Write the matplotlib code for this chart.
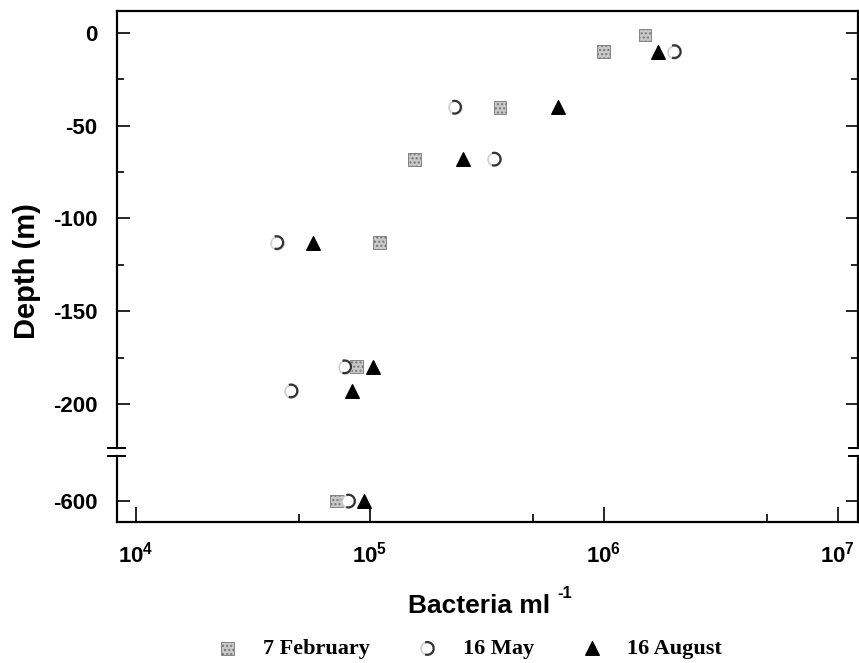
import math
import matplotlib
matplotlib.use("Agg")
import matplotlib.pyplot as plt
from matplotlib.path import Path
from matplotlib.ticker import FixedLocator, FuncFormatter, NullFormatter
from matplotlib.legend_handler import HandlerTuple

plt.rcParams["font.family"] = "Liberation Sans"
plt.rcParams["font.weight"] = "bold"
plt.rcParams["axes.unicode_minus"] = False
plt.rcParams["mathtext.fontset"] = "custom"
plt.rcParams["mathtext.rm"] = "Liberation Sans:bold"
plt.rcParams["mathtext.bf"] = "Liberation Sans:bold"

# bacteria per ml vs depth (m)
feb_x = [1.5e6, 1.0e6, 3.6e5, 1.55e5, 1.1e5, 8.8e4, 7.2e4]
feb_y = [-1, -10, -40, -68, -113, -180, -600]
may_x = [2.0e6, 2.3e5, 3.4e5, 4.0e4, 7.8e4, 4.6e4, 8.1e4]
may_y = [-10, -40, -68, -113, -180, -193, -600]
aug_x = [1.7e6, 6.4e5, 2.5e5, 5.7e4, 1.03e5, 8.4e4, 9.4e4]
aug_y = [-10, -40, -68, -113, -180, -193, -600]

series_labels = ["7 February", "16 May", "16 August"]
upper_ticks = [0, -50, -100, -150, -200]
lower_ticks = [-600]

fig = plt.figure(figsize=(8.59, 6.63), dpi=100)
L, R = 117 / 859, 858 / 859
ax = fig.add_axes([L, 1 - 448 / 663, R - L, (448 - 11) / 663])
ax2 = fig.add_axes([L, 1 - 522 / 663, R - L, (522 - 456) / 663], sharex=ax)

half_arc = Path.arc(-110, 110)


def draw(a, sel):
    fx = [x for x, y in zip(feb_x, feb_y) if sel(y)]
    fy = [y for y in feb_y if sel(y)]
    mx = [x for x, y in zip(may_x, may_y) if sel(y)]
    my = [y for y in may_y if sel(y)]
    gx = [x for x, y in zip(aug_x, aug_y) if sel(y)]
    gy = [y for y in aug_y if sel(y)]
    s1 = a.scatter(fx, fy, marker="s", s=85, facecolor="#c8c8c8",
                   edgecolor="#777777", hatch="....", linewidth=0.6, zorder=3)
    c1 = a.scatter(mx, my, marker="o", s=85, facecolor="white",
                   edgecolor="#cfcfcf", linewidth=1.2, zorder=3)
    c2 = a.scatter(mx, my, marker=half_arc, s=85, facecolor="none",
                   edgecolor="#333333", linewidth=1.6, zorder=4)
    t1 = a.scatter(gx, gy, marker="^", s=95, color="black", zorder=5)
    return s1, (c1, c2), t1


handles = draw(ax, lambda y: y > -400)
draw(ax2, lambda y: y < -400)

ax.set_xscale("log")
ax.set_xlim(8.3e3, 1.22e7)
ax.set_ylim(-223.8, 11.9)
ax2.set_ylim(-611.3, -575.7)

for a in (ax, ax2):
    a.tick_params(axis="both", which="both", direction="in", width=1.2)
    a.tick_params(axis="y", which="both", right=True)
    a.tick_params(axis="y", which="major", length=9, labelsize=16, pad=14)
    a.tick_params(axis="y", which="minor", length=5)
    a.tick_params(axis="x", which="major", length=11)
    a.tick_params(axis="x", which="minor", length=6)
    for sp in a.spines.values():
        sp.set_linewidth(1.6)

ax.yaxis.set_major_locator(FixedLocator(upper_ticks))
ax.yaxis.set_minor_locator(FixedLocator([-25, -75, -125, -175]))
ax2.yaxis.set_major_locator(FixedLocator(lower_ticks))
ax2.yaxis.set_minor_locator(FixedLocator([]))

ax.spines["bottom"].set_visible(False)
ax2.spines["top"].set_visible(False)
ax.tick_params(axis="x", which="both", bottom=False, labelbottom=False)

ax2.xaxis.set_major_locator(FixedLocator([1e4, 1e5, 1e6, 1e7]))
ax2.xaxis.set_minor_locator(FixedLocator([5e4, 5e5, 5e6]))
ax2.xaxis.set_major_formatter(FuncFormatter(lambda v, p: r"$10^{%d}$" % round(math.log10(v))))
ax2.xaxis.set_minor_formatter(NullFormatter())
ax2.tick_params(axis="x", labelsize=16, pad=14)

# break marks on both sides
for xpos in (0, 1):
    for yy in (448, 456):
        fig.add_artist(plt.Line2D([L + (R - L) * xpos - 9 / 859, L + (R - L) * xpos + 8 / 859],
                                  [1 - yy / 663, 1 - yy / 663], color="black", lw=1.4))

fig.text(27 / 859, 1 - 271 / 663, "Depth (m)", rotation=90, ha="center", va="center",
         fontsize=21, fontweight="bold")
fig.text(550 / 859, 1 - 606 / 663, "Bacteria ml", ha="right", va="center",
         fontsize=19, fontweight="bold")
fig.text(557 / 859, 1 - 594 / 663, "-1", ha="left", va="center",
         fontsize=12, fontweight="bold")

fig.legend(handles, series_labels, loc="center", bbox_to_anchor=(468 / 859, 1 - 649 / 663),
           ncol=3, frameon=False, handler_map={tuple: HandlerTuple(ndivide=1)},
           prop={"family": "Liberation Serif", "weight": "bold", "size": 16},
           handlelength=1.2, handletextpad=1.0, columnspacing=2.0, borderpad=0.1)

plt.savefig("out.png", dpi=100)
plt.close()
